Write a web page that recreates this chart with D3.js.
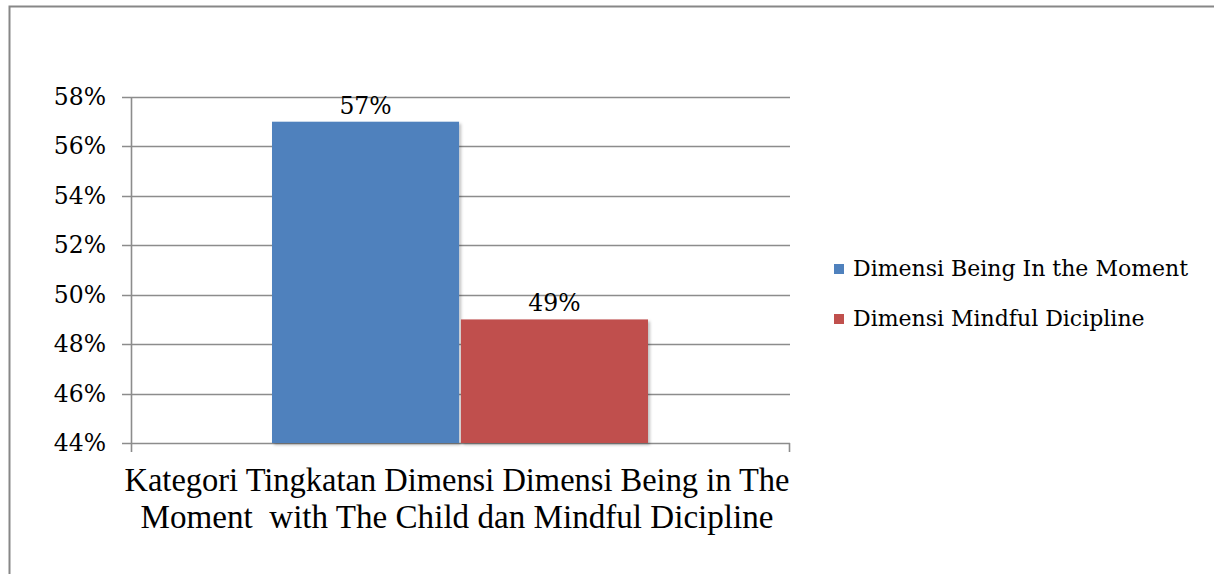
<!DOCTYPE html>
<html>
<head>
<meta charset="utf-8">
<script src="https://cdn.jsdelivr.net/npm/d3@7"></script>
<style>
  body { margin: 0; background: #fff; }
  svg { display: block; }
</style>
</head>
<body>
<svg></svg>
<script>
var series = ["Dimensi Being In the Moment", "Dimensi Mindful Dicipline"];
var values = [0.57, 0.49];
var colors = ["#4F81BD", "#C0504D"];
var yTicks = [0.44, 0.46, 0.48, 0.50, 0.52, 0.54, 0.56, 0.58];
var categoryLines = ["Kategori Tingkatan Dimensi Dimensi Being in The",
                     "Moment  with The Child dan Mindful Dicipline"];

/* svg setting */
var svgWidth = 1214;
var svgHeight = 574;
var plot = {left: 131, right: 790, top: 97, bottom: 443};
var times = "'Liberation Serif', serif";
var cambria = "'DejaVu Serif', serif";  // closest thing to Cambria here

var svg = d3.select("svg")
    .attr("width", svgWidth)
    .attr("height", svgHeight);

var defs = svg.append("defs");
var shadow = defs.append("filter").attr("id", "shadow")
    .attr("x", "-10%").attr("y", "-10%").attr("width", "130%").attr("height", "130%");
shadow.append("feDropShadow")
    .attr("dx", 2).attr("dy", 2).attr("stdDeviation", 1.5)
    .attr("flood-color", "#000").attr("flood-opacity", 0.25);

// outer border (only left and top edges show in the picture)
svg.append("path")
    .attr("d", "M9.5," + svgHeight + "V6.5H" + svgWidth)
    .attr("fill", "none")
    .attr("stroke", "#878787")
    .attr("stroke-width", 2);

/* scales */
var y = d3.scaleLinear()
    .domain([0.44, 0.58])
    .range([plot.bottom, plot.top]);

var x = d3.scaleBand()
    .domain(series)
    .range([272, 648])
    .paddingInner(0.01);

// gridlines
svg.append("g")
    .selectAll("line")
    .data(yTicks)
    .enter()
    .append("line")
    .attr("x1", plot.left - 9)
    .attr("x2", plot.right)
    .attr("y1", function(d){ return Math.round(y(d)) + 0.5; })
    .attr("y2", function(d){ return Math.round(y(d)) + 0.5; })
    .attr("stroke", "#8c8c8c")
    .attr("stroke-width", 1.6);

// y axis labels
svg.append("g")
    .selectAll("text")
    .data(yTicks)
    .enter()
    .append("text")
    .attr("x", 106)
    .attr("y", function(d){ return y(d) + 8; })
    .attr("text-anchor", "end")
    .attr("font-family", cambria)
    .attr("font-size", 23.5)
    .attr("fill", "#000")
    .text(d3.format(".0%"));

// y axis line
svg.append("line")
    .attr("x1", plot.left + 0.5).attr("x2", plot.left + 0.5)
    .attr("y1", plot.top).attr("y2", plot.bottom + 9)
    .attr("stroke", "#8c8c8c").attr("stroke-width", 1.6);

// right tick of category axis
svg.append("line")
    .attr("x1", plot.right - 0.5).attr("x2", plot.right - 0.5)
    .attr("y1", plot.bottom).attr("y2", plot.bottom + 9)
    .attr("stroke", "#8c8c8c").attr("stroke-width", 1.6);

/* bars */
svg.append("g")
    .selectAll("rect")
    .data(values)
    .enter()
    .append("rect")
    .attr("x", function(d, i){ return x(series[i]); })
    .attr("y", function(d){ return y(d); })
    .attr("width", x.bandwidth())
    .attr("height", function(d){ return plot.bottom - y(d); })
    .attr("fill", function(d, i){ return colors[i]; })
    .attr("filter", "url(#shadow)");

// value labels
svg.append("g")
    .selectAll("text")
    .data(values)
    .enter()
    .append("text")
    .attr("x", function(d, i){ return x(series[i]) + x.bandwidth() / 2; })
    .attr("y", function(d){ return y(d) - 8; })
    .attr("text-anchor", "middle")
    .attr("font-family", cambria)
    .attr("font-size", 23.5)
    .attr("fill", "#000")
    .text(d3.format(".0%"));

/* category label */
var catWidths = [665, 633];
svg.append("g")
    .selectAll("text")
    .data(categoryLines)
    .enter()
    .append("text")
    .attr("x", 457)
    .attr("y", function(d, i){ return 491 + i * 37; })
    .attr("text-anchor", "middle")
    .attr("font-family", times)
    .attr("font-size", 33)
    .attr("fill", "#000")
    .attr("textLength", function(d, i){ return catWidths[i]; })
    .attr("lengthAdjust", "spacingAndGlyphs")
    .style("white-space", "pre")
    .text(function(d){ return d; });

/* legend */
var legend = svg.append("g")
    .selectAll("g")
    .data(series)
    .enter()
    .append("g")
    .attr("transform", function(d, i){ return "translate(834," + (264 + i * 50) + ")"; });

legend.append("rect")
    .attr("width", 10)
    .attr("height", 10)
    .attr("fill", function(d, i){ return colors[i]; });

legend.append("text")
    .attr("x", 19)
    .attr("y", 12)
    .attr("font-family", cambria)
    .attr("font-size", 22)
    .attr("fill", "#000")
    .text(function(d){ return d; });
</script>
</body>
</html>
